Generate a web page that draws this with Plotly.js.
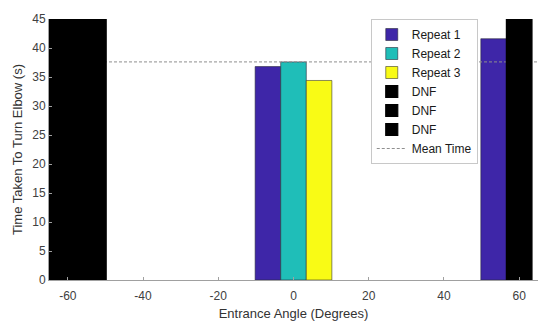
<!DOCTYPE html>
<html>
<head>
<meta charset="utf-8">
<script src="https://cdn.plot.ly/plotly-3.0.1.min.js"></script>
<style>html,body{margin:0;padding:0;background:#fff;}#chart{width:550px;height:328px;}</style>
</head>
<body>
<div id="chart"></div>
<script>
// Data
const repeat1Angles = [0, 60];
const repeat1Times = [36.8, 41.6];
const repeat2Angles = [0];
const repeat2Times = [37.6];
const repeat3Angles = [0];
const repeat3Times = [34.4];
const dnfAAngles = [-60];
const dnfATimes = [45];
const dnfBAngles = [-60, 60];
const dnfBTimes = [45, 45];
const dnfCAngles = [-60];
const dnfCTimes = [45];
const meanTime = 37.6;
const meanSpan = [-65, 65];
const xTicks = [-60, -40, -20, 0, 20, 40, 60];
const yTicks = [0, 5, 10, 15, 20, 25, 30, 35, 40, 45];

const bw = 6.8;
function barTrace(name, x, y, color, edgeColor, edgeWidth, slot, rank, axes) {
  const t = {
    type: 'bar', name: name, x: x, y: y,
    width: x.map(() => bw),
    offset: x.map(() => (slot - 1.5) * bw),
    marker: {color: color, line: {color: edgeColor, width: edgeWidth}},
    legendrank: rank,
    hoverinfo: 'x+y'
  };
  if (axes) { t.xaxis = 'x2'; t.yaxis = 'y2'; }
  return t;
}

const traces = [
  barTrace('Repeat 1', repeat1Angles, repeat1Times, '#3e26a8', '#2a2a3a', 0.6, 0, 1),
  barTrace('Repeat 2', repeat2Angles, repeat2Times, '#1fbeb8', '#2a2a3a', 0.6, 1, 2),
  barTrace('Repeat 3', repeat3Angles, repeat3Times, '#f9fb15', '#3a3a2a', 0.6, 2, 3),
  {
    type: 'scatter', mode: 'lines', name: 'Mean Time',
    x: meanSpan, y: meanSpan.map(() => meanTime),
    line: {color: '#8f8f8f', width: 1, dash: '3px,2px'},
    legendrank: 7
  },
  barTrace('DNF', dnfAAngles, dnfATimes, '#000000', '#000000', 1.2, 0, 4, true),
  barTrace('DNF', dnfBAngles, dnfBTimes, '#000000', '#000000', 1.2, 1, 5, true),
  barTrace('DNF', dnfCAngles, dnfCTimes, '#000000', '#000000', 1.2, 2, 6, true)
];

const fam = 'Liberation Sans, Arial, sans-serif';
const tickFont = {family: fam, size: 12, color: '#404040'};
const layout = {
  width: 550, height: 328,
  margin: {l: 49, r: 12, t: 19, b: 48},
  paper_bgcolor: '#ffffff', plot_bgcolor: '#ffffff',
  barmode: 'overlay',
  showlegend: true,
  legend: {
    x: 0.658, y: 1, xanchor: 'left', yanchor: 'top',
    bgcolor: '#ffffff', bordercolor: '#c8c8c8', borderwidth: 1,
    font: {family: fam, size: 12, color: '#1a1a1a'},
    tracegroupgap: 0, itemwidth: 30
  },
  xaxis: {
    range: [-65, 65], tickvals: xTicks, ticktext: xTicks.map(String),
    ticks: 'inside', ticklen: 3, tickcolor: '#a0a0a0',
    showline: true, linecolor: '#a0a0a0', linewidth: 1,
    showgrid: false, zeroline: false, tickfont: tickFont,
    ticklabelstandoff: 5,
    title: {text: 'Entrance Angle (Degrees)', font: {family: fam, size: 13, color: '#333333'}, standoff: 6}
  },
  yaxis: {
    range: [0, 45], tickvals: yTicks, ticktext: yTicks.map(String),
    ticks: 'inside', ticklen: 3, tickcolor: '#a0a0a0',
    showline: true, linecolor: '#a0a0a0', linewidth: 1,
    showgrid: false, zeroline: false, tickfont: tickFont,
    title: {text: 'Time Taken To Turn Elbow (s)', font: {family: fam, size: 13, color: '#333333'}, standoff: 6}
  },
  xaxis2: {overlaying: 'x', matches: 'x', range: [-65, 65], visible: false},
  yaxis2: {overlaying: 'y', matches: 'y', range: [0, 45], visible: false}
};

Plotly.newPlot('chart', traces, layout, {displayModeBar: false, staticPlot: true});
</script>
</body>
</html>
